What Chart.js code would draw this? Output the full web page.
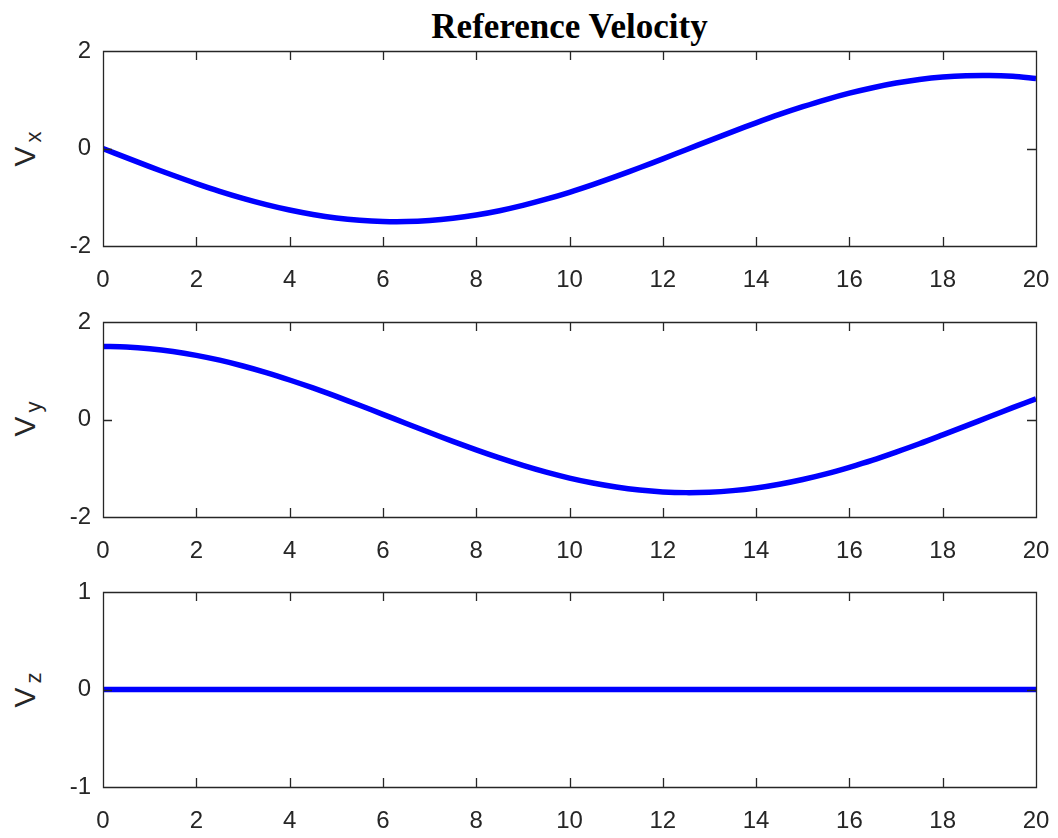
<!DOCTYPE html>
<html>
<head>
<meta charset="utf-8">
<script src="https://cdn.jsdelivr.net/npm/chart.js@4"></script>
<style>
  body { margin: 0; background: #fff; }
  #wrap { position: relative; width: 1058px; height: 838px; }
  canvas { position: absolute; left: 0; }
  .title { position: absolute; left: 103px; width: 933px; top: 7px; text-align: center;
    font: bold 35px "Liberation Serif", "Times New Roman", serif; color: #000; }
  .ylab { position: absolute; font: 30px "Liberation Sans", Arial, sans-serif; color: #262626;
    white-space: nowrap; transform: translate(-50%, -50%) rotate(-90deg); }
  .ylab sub { font-size: 22px; position: relative; top: 6px; vertical-align: baseline; margin-left: 4px; }
</style>
</head>
<body>
<div id="wrap">
  <div class="title">Reference Velocity</div>
  <div class="ylab" style="left:25px; top:149px">V<sub>x</sub></div>
  <div class="ylab" style="left:25px; top:419px">V<sub>y</sub></div>
  <div class="ylab" style="left:25px; top:690px">V<sub>z</sub></div>
  <canvas id="c1" width="1058" height="255" style="top:36px"></canvas>
  <canvas id="c2" width="1058" height="255" style="top:307px"></canvas>
  <canvas id="c3" width="1058" height="255" style="top:577px"></canvas>
</div>
<script>
const time = [0, 0.5, 1, 1.5, 2, 2.5, 3, 3.5, 4, 4.5, 5, 5.5, 6, 6.5, 7, 7.5, 8, 8.5, 9, 9.5, 10,
  10.5, 11, 11.5, 12, 12.5, 13, 13.5, 14, 14.5, 15, 15.5, 16, 16.5, 17, 17.5, 18, 18.5, 19, 19.5, 20];
const vx = [0, -0.187, -0.371, -0.549, -0.719, -0.878, -1.022, -1.151, -1.262, -1.353, -1.424,
  -1.471, -1.496, -1.498, -1.476, -1.431, -1.364, -1.276, -1.167, -1.040, -0.898,
  -0.741, -0.573, -0.395, -0.212, -0.025, 0.162, 0.347, 0.526, 0.698, 0.857,
  1.004, 1.135, 1.247, 1.342, 1.415, 1.466, 1.494, 1.499, 1.480, 1.438];
const vy = [1.5, 1.488, 1.453, 1.396, 1.316, 1.217, 1.098, 0.962, 0.810, 0.647, 0.473,
  0.292, 0.106, -0.081, -0.267, -0.449, -0.624, -0.789, -0.942, -1.081, -1.202,
  -1.304, -1.386, -1.447, -1.485, -1.500, -1.491, -1.459, -1.405, -1.328, -1.231,
  -1.115, -0.980, -0.833, -0.669, -0.498, -0.316, -0.131, 0.056, 0.243, 0.425];
const vz = [0, 0, 0, 0, 0, 0, 0, 0, 0, 0, 0, 0, 0, 0, 0, 0, 0, 0, 0, 0, 0,
  0, 0, 0, 0, 0, 0, 0, 0, 0, 0, 0, 0, 0, 0, 0, 0, 0, 0, 0, 0];
const xTicks = [0, 2, 4, 6, 8, 10, 12, 14, 16, 18, 20];

const axisColor = '#262626';
const tickLen = 9;

// matlab style box with inward ticks on all four sides
const boxPlugin = {
  id: 'box',
  afterDraw(chart) {
    const ctx = chart.ctx, a = chart.chartArea;
    const xs = chart.scales.x, ys = chart.scales.y;
    ctx.save();
    ctx.strokeStyle = axisColor;
    ctx.lineWidth = 1.3;
    ctx.beginPath();
    ctx.rect(Math.round(a.left) + 0.5, Math.round(a.top) + 0.5,
      Math.round(a.right - a.left), Math.round(a.bottom - a.top));
    xs.ticks.forEach(t => {
      const px = Math.round(xs.getPixelForValue(t.value)) + 0.5;
      ctx.moveTo(px, a.bottom); ctx.lineTo(px, a.bottom - tickLen);
      ctx.moveTo(px, a.top); ctx.lineTo(px, a.top + tickLen);
    });
    ys.ticks.forEach(t => {
      const py = Math.round(ys.getPixelForValue(t.value)) + 0.5;
      ctx.moveTo(a.left, py); ctx.lineTo(a.left + tickLen, py);
      ctx.moveTo(a.right, py); ctx.lineTo(a.right - tickLen, py);
    });
    ctx.stroke();
    ctx.restore();
  }
};

function makePlot(id, values, yMin, yMax, yStep) {
  new Chart(document.getElementById(id), {
    type: 'line',
    data: {
      datasets: [{
        data: time.map((t, i) => ({ x: t, y: values[i] })),
        borderColor: '#0000ff',
        borderWidth: 5.5,
        pointRadius: 0,
        tension: 0.3,
        fill: false
      }]
    },
    options: {
      responsive: false,
      animation: false,
      layout: { padding: { top: 15, right: 22, left: 0, bottom: 0 } },
      plugins: { legend: { display: false }, tooltip: { enabled: false } },
      scales: {
        x: {
          type: 'linear', min: 0, max: 20,
          afterBuildTicks: s => { s.ticks = xTicks.map(v => ({ value: v })); },
          afterFit: s => { s.height = 45; s.paddingLeft = 0; s.paddingRight = 0; },
          grid: { display: false }, border: { display: false },
          ticks: { autoSkip: false, maxRotation: 0, padding: 12, color: axisColor,
            font: { family: 'Liberation Sans', size: 24 } }
        },
        y: {
          min: yMin, max: yMax,
          afterFit: s => { s.width = 103; s.paddingTop = 0; s.paddingBottom = 0; },
          grid: { display: false }, border: { display: false },
          ticks: { stepSize: yStep, padding: 4, color: axisColor,
            font: { family: 'Liberation Sans', size: 24 } }
        }
      }
    },
    plugins: [boxPlugin]
  });
}

makePlot('c1', vx, -2, 2, 2);
makePlot('c2', vy, -2, 2, 2);
makePlot('c3', vz, -1, 1, 1);
</script>
</body>
</html>
